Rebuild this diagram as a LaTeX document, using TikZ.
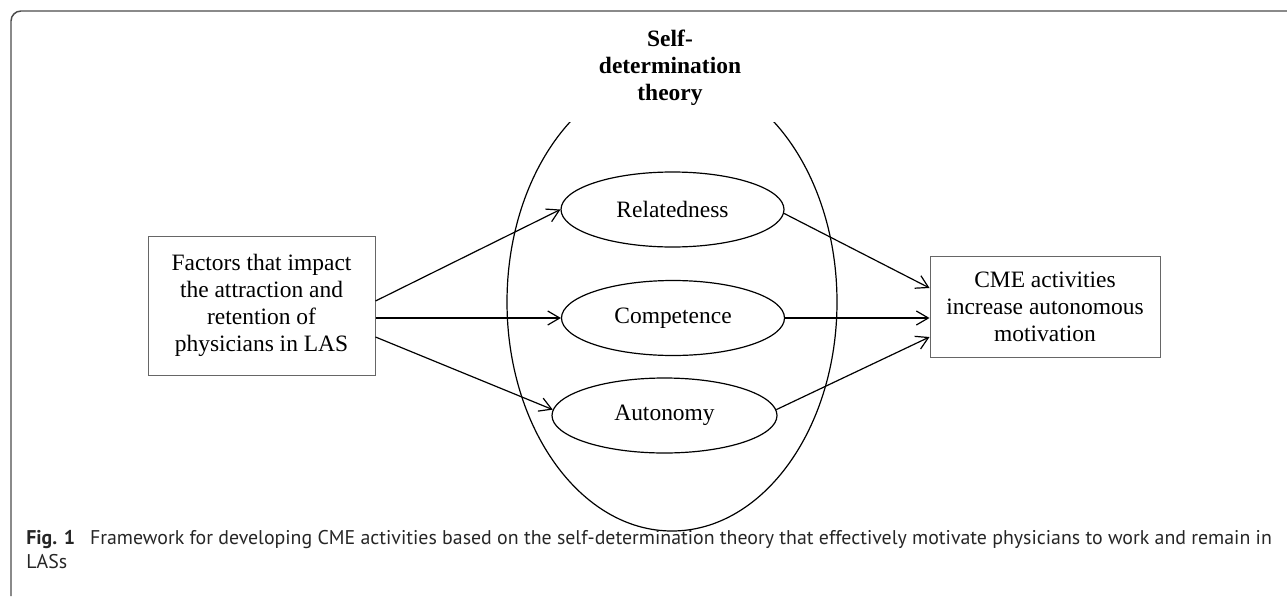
\documentclass[tikz,border=0pt]{standalone}
\usepackage{fontspec}
\setmainfont{Liberation Serif}
\newfontfamily\capfont{PT Sans}
\usetikzlibrary{shapes.geometric,arrows.meta,calc}
\begin{document}
\begin{tikzpicture}[x=0.75pt,y=-0.75pt,
  txt/.style={font=\fontsize{17.6pt}{20.25pt}\selectfont},
  boxnode/.style={txt,draw=black!60,line width=0.75pt,align=center,inner sep=0pt},
  elnode/.style={txt,draw=black,line width=0.9pt,ellipse,inner sep=0pt,minimum width=167.25pt,minimum height=56.25pt},
  arr/.style={line width=0.9pt,-{Straight Barb[length=9pt,width=10.5pt]}},
  bigel/.style={line width=0.9pt},
  frame/.style={draw=black!70,line width=1.1pt,rounded corners=7.5pt}
]
\useasboundingbox (0,0) rectangle (1287,596);
% frame
\draw[frame] (11,596) -- (11,11) -- (1287,11);
% big ellipse (top hidden behind title)
\begin{scope}
\clip (0,122) rectangle (1287,596);
\draw[bigel] (672,302) ellipse [x radius=123.75pt, y radius=171.75pt];
\end{scope}
\node[font=\fontsize{17.6pt}{19.9pt}\selectfont\bfseries,align=center,anchor=base,inner sep=0pt] (sdt) at (670,100) {Self-\\determination\\theory};
% nodes
\node[boxnode,minimum width=170.25pt,minimum height=104.25pt] (fac) at (261.5,305.5) {Factors that impact\\the attraction and\\retention of\\physicians in LAS};
\node[boxnode,minimum width=172.5pt,minimum height=75.75pt] (cme) at (1045,306.5) {CME activities\\increase autonomous\\motivation};
\node[elnode] (rel) at (672.5,209.5) {Relatedness};
\node[elnode] (com) at (673,318) {Competence};
\node[elnode,minimum width=168.75pt] (aut) at (664.5,415.5) {Autonomy};
% connectors
\draw[arr] ($(fac.east)+(0,-4.5)$) -- (rel.west);
\draw[arr] ($(fac.east)+(0,12.5)$) -- (com.west);
\draw[arr] ($(fac.east)+(0,31.5)$) -- (aut.177);
\draw[arr] (rel.-2) -- ($(cme.west)+(0,-18.5)$);
\draw[arr] (com.east) -- ($(cme.west)+(0,11.5)$);
\draw[arr] (aut.3) -- ($(cme.west)+(0,30.5)$);
% caption
\node[anchor=base west,inner sep=0pt,align=left,font=\capfont\fontsize{14.9pt}{17.5pt}\selectfont,text=black!85] (cap) at (26,568) {\textbf{Fig. 1}\hspace{0.75em}Framework for developing CME activities based on the self-determination theory that effectively motivate physicians to work and remain in\\LASs};
\end{tikzpicture}
\end{document}
